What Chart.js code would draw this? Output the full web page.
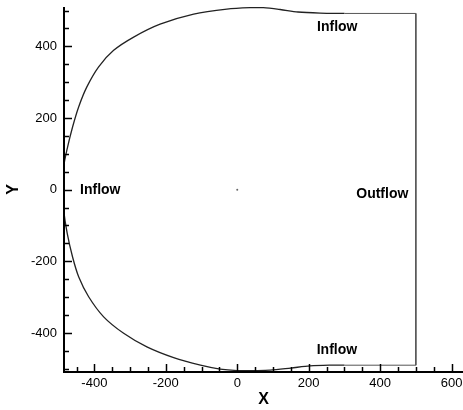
<!DOCTYPE html>
<html>
<head>
<meta charset="utf-8">
<script src="https://cdn.jsdelivr.net/npm/chart.js@4/dist/chart.umd.min.js"></script>
<style>
  html, body { margin: 0; padding: 0; background: #fff; }
  canvas { display: block; }
</style>
</head>
<body>
<canvas id="domainChart" width="463" height="410"></canvas>
<script>
// === DATA ===
// curved boundary: top flat -> top bump -> left arc -> bottom -> bottom flat
const curveX = [300, 232, 170, 120, 73, 36, -29, -122, -216, -290, -346, -388, -421, -444, -461, -475, -486, -490,
                -486, -476, -461, -444, -416, -374, -318, -253, -178, -103, -48, 0, 50, 92, 150, 204, 260, 300];
const curveY = [492, 493, 496, 503, 508, 508, 504, 490, 462, 426, 389, 343, 287, 231, 175, 119, 64, 0,
                -57, -122, -188, -243, -299, -355, -401, -439, -469, -490, -501, -505, -505, -504, -498, -492, -490, -490];
// straight part: top flat, outflow edge, bottom flat
const edgeX = [300, 500, 500, 300];
const edgeY = [492, 492, -490, -490];

const xTicks = [-400, -200, 0, 200, 400, 600];
const yTicks = [-400, -200, 0, 200, 400];

const labelText = ['Inflow', 'Inflow', 'Inflow', 'Outflow'];
const labelX = [-440, 280, 279, 479];
const labelY = [0, 455, -449, -12];
const labelAlign = ['left', 'center', 'center', 'right'];

const FONT = '"Liberation Sans", Arial, Helvetica, sans-serif';

function toPoints(xs, ys) {
  return xs.map((x, i) => ({ x: x, y: ys[i] }));
}

// === FRAME: spines with inside ticks, plus the boundary labels ===
const framePlugin = {
  id: 'frame',
  afterDraw(chart) {
    const ctx = chart.ctx;
    const a = chart.chartArea;
    const xs = chart.scales.x, ys = chart.scales.y;
    ctx.save();
    ctx.strokeStyle = '#000';
    ctx.lineWidth = 2;
    ctx.beginPath();
    ctx.moveTo(a.left, a.top);
    ctx.lineTo(a.left, a.bottom);
    ctx.lineTo(a.right, a.bottom);
    ctx.stroke();

    ctx.lineWidth = 1.5;
    for (let v = -450; v <= 650; v += 50) {
      if (v < xs.min || v > xs.max) continue;
      const px = Math.round(xs.getPixelForValue(v)) + 0.5;
      const len = v % 200 === 0 ? 8 : 5;
      ctx.beginPath();
      ctx.moveTo(px, a.bottom);
      ctx.lineTo(px, a.bottom - len);
      ctx.stroke();
    }
    for (let v = -500; v <= 500; v += 50) {
      if (v < ys.min || v > ys.max) continue;
      const py = Math.round(ys.getPixelForValue(v)) + 0.5;
      const len = v % 200 === 0 ? 8 : 5;
      ctx.beginPath();
      ctx.moveTo(a.left, py);
      ctx.lineTo(a.left + len, py);
      ctx.stroke();
    }

    ctx.fillStyle = '#000';
    ctx.font = 'bold 14px ' + FONT;
    ctx.textBaseline = 'middle';
    labelText.forEach((t, i) => {
      ctx.textAlign = labelAlign[i];
      ctx.fillText(t, xs.getPixelForValue(labelX[i]), ys.getPixelForValue(labelY[i]));
    });
    ctx.restore();
  }
};

// === CHART ===
const ctx = document.getElementById('domainChart').getContext('2d');
const chart = new Chart(ctx, {
  type: 'scatter',
  data: {
    datasets: [
      {
        data: toPoints(curveX, curveY),
        showLine: true,
        borderColor: '#222',
        borderWidth: 1.3,
        pointRadius: 0,
        pointHoverRadius: 0,
        tension: 0.3,
        fill: false
      },
      {
        data: toPoints(edgeX, edgeY),
        showLine: true,
        borderColor: '#555',
        borderWidth: 1,
        pointRadius: 0,
        pointHoverRadius: 0,
        tension: 0,
        fill: false
      },
      {
        data: [{ x: 0, y: 0 }],
        pointRadius: 1,
        pointHoverRadius: 1,
        backgroundColor: '#666',
        borderWidth: 0
      }
    ]
  },
  options: {
    responsive: false,
    animation: false,
    events: [],
    layout: { autoPadding: false, padding: { top: 7, right: 0, bottom: 0, left: 0 } },
    plugins: { legend: { display: false }, tooltip: { enabled: false } },
    scales: {
      x: {
        type: 'linear',
        min: -485,
        max: 632,
        afterBuildTicks: s => { s.ticks = xTicks.map(v => ({ value: v })); },
        afterFit: s => { s.height = 38; s.paddingLeft = 0; s.paddingRight = 0; },
        grid: { display: false, drawTicks: false },
        border: { display: false },
        ticks: { padding: 4, color: '#000', font: { family: FONT, size: 13 } },
        title: {
          display: true, text: 'X', color: '#000',
          font: { family: FONT, size: 16, weight: 'bold' },
          padding: { top: 0, bottom: 1 }
        }
      },
      y: {
        type: 'linear',
        min: -509,
        max: 510,
        afterBuildTicks: s => { s.ticks = yTicks.map(v => ({ value: v })); },
        afterFit: s => { s.width = 64; s.paddingTop = 0; s.paddingBottom = 0; },
        grid: { display: false, drawTicks: false },
        border: { display: false },
        ticks: { padding: 7, color: '#000', font: { family: FONT, size: 13 } },
        title: {
          display: true, text: 'Y', color: '#000',
          font: { family: FONT, size: 16, weight: 'bold' },
          padding: { top: 4, bottom: 0 }
        }
      }
    }
  },
  plugins: [framePlugin]
});
</script>
</body>
</html>
